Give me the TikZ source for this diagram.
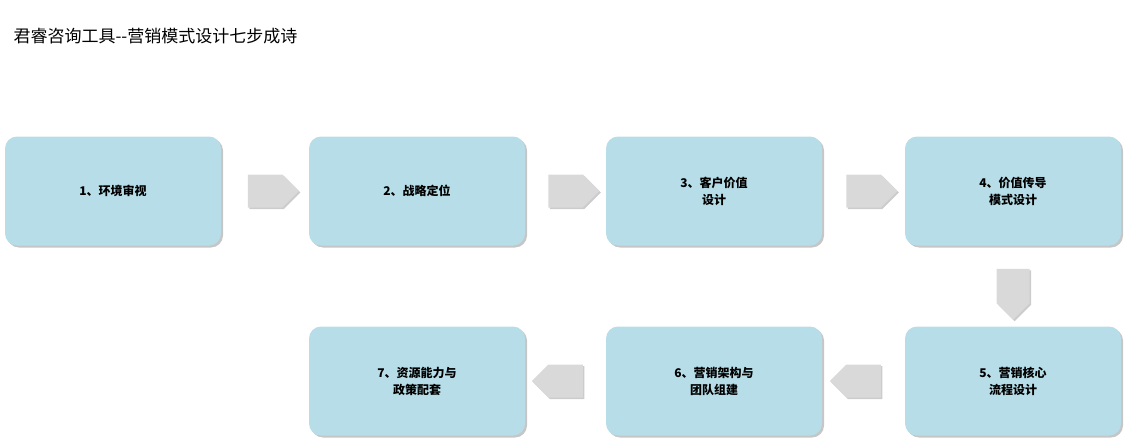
\documentclass[tikz,border=0pt]{standalone}
\usepackage{fontspec}
\newfontfamily\cjk{Noto Sans CJK SC}
\usetikzlibrary{calc, shapes.arrows, shadows, positioning}
\definecolor{boxblue}{HTML}{B7DEE8}
\definecolor{arrgray}{HTML}{D9D9D9}
\tikzset{
	stepbox/.style={draw=none, fill=boxblue, rounded corners=12pt, minimum width=216pt, minimum height=109pt,
		align=center, font=\cjk\bfseries\fontsize{12}{17}\selectfont, drop shadow={shadow xshift=2pt, shadow yshift=-2pt, opacity=.45}},
	flowarrow/.style={single arrow, fill=arrgray, draw=none, minimum height=51pt, minimum width=33pt,
		single arrow head extend=0pt, inner sep=0pt, drop shadow={shadow xshift=1.5pt, shadow yshift=-1.5pt, opacity=.4}}
}
\begin{document}
\begin{tikzpicture}[x=1pt, y=-1pt]
	\useasboundingbox (0,0) rectangle (1129,444);
	\node[anchor=west, font=\cjk\fontsize{17}{20}\selectfont] (title) at (10,36) {君睿咨询工具--营销模式设计七步成诗};
	% first row
	\node[stepbox] (s1) at (113,191) {1、环境审视};
	\node[stepbox] (s2) at (417,191) {2、战略定位};
	\node[stepbox] (s3) at (714,191) {3、客户价值\\设计};
	\node[stepbox] (s4) at (1013,191) {4、价值传导\\模式设计};
	% second row
	\node[stepbox] (s5) at (1013,381) {5、营销核心\\流程设计};
	\node[stepbox] (s6) at (714,381) {6、营销架构与\\团队组建};
	\node[stepbox] (s7) at (417,381) {7、资源能力与\\政策配套};
	% arrows
	\node[flowarrow] (a12) at ($(s1.east)!.5!(s2.west)$) {};
	\node[flowarrow] (a23) at ($(s2.east)!.5!(s3.west)$) {};
	\node[flowarrow] (a34) at ($(s3.east)!.5!(s4.west)$) {};
	\node[flowarrow, shape border rotate=270] (a45) at ($(s4.south)!.5!(s5.north)$) {};
	\node[flowarrow, shape border rotate=180] (a56) at ($(s5.west)!.5!(s6.east)$) {};
	\node[flowarrow, shape border rotate=180] (a67) at ($(s6.west)!.5!(s7.east)$) {};
\end{tikzpicture}
\end{document}
